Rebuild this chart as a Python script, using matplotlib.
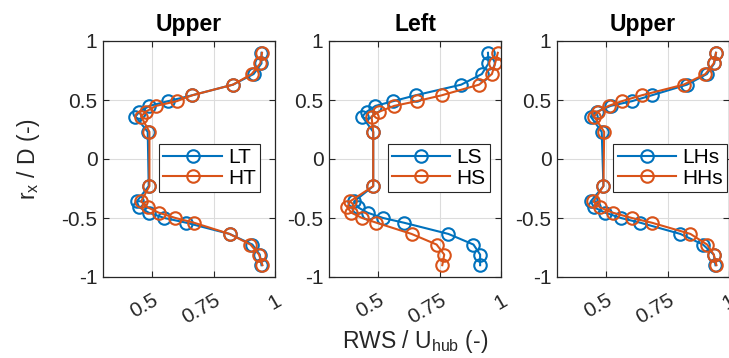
import matplotlib
matplotlib.use("Agg")
import matplotlib.pyplot as plt

plt.rcParams["font.family"] = ["Liberation Sans", "DejaVu Sans"]
plt.rcParams["mathtext.fontset"] = "custom"
plt.rcParams["mathtext.rm"] = "Liberation Sans"
plt.rcParams["mathtext.it"] = "Liberation Sans"

BLUE = "#0072BD"
ORANGE = "#D95319"

# radial positions r_x / D (shared by all profiles)
y_pos = [0.90, 0.81, 0.72, 0.63, 0.54, 0.49, 0.45, 0.40, 0.36, 0.23,
         -0.23, -0.36, -0.41, -0.455, -0.50, -0.54, -0.635, -0.725, -0.81, -0.90]

# panel 1 (Upper)
lt = [0.945, 0.945, 0.913, 0.829, 0.663, 0.565, 0.489, 0.448, 0.432, 0.482,
      0.486, 0.437, 0.448, 0.486, 0.550, 0.639, 0.815, 0.908, 0.938, 0.945]
ht = [0.947, 0.940, 0.905, 0.829, 0.663, 0.600, 0.516, 0.473, 0.455, 0.489,
      0.489, 0.455, 0.482, 0.527, 0.595, 0.670, 0.815, 0.900, 0.935, 0.949]

# panel 2 (Left)
ls_ = [0.947, 0.949, 0.922, 0.838, 0.653, 0.561, 0.489, 0.453, 0.435, 0.480,
       0.480, 0.402, 0.418, 0.457, 0.520, 0.605, 0.786, 0.888, 0.915, 0.915]
hs = [0.987, 0.976, 0.963, 0.911, 0.759, 0.657, 0.565, 0.503, 0.473, 0.480,
      0.480, 0.385, 0.375, 0.391, 0.435, 0.493, 0.636, 0.738, 0.769, 0.761]

# panel 3 (Upper)
lhs = [0.947, 0.940, 0.910, 0.829, 0.686, 0.605, 0.518, 0.462, 0.437, 0.482,
       0.489, 0.437, 0.451, 0.496, 0.560, 0.639, 0.802, 0.894, 0.938, 0.945]
hhs = [0.947, 0.938, 0.904, 0.815, 0.645, 0.564, 0.510, 0.466, 0.451, 0.492,
       0.489, 0.448, 0.475, 0.527, 0.605, 0.686, 0.843, 0.911, 0.938, 0.949]

panels = [
    ("Upper", lt, ht, "LT", "HT"),
    ("Left", ls_, hs, "LS", "HS"),
    ("Upper", lhs, hhs, "LHs", "HHs"),
]

x_ticks = [0.5, 0.75, 1]
x_ticklabels = ["0.5", "0.75", "1"]
y_ticks = [-1, -0.5, 0, 0.5, 1]
y_ticklabels = ["-1", "-0.5", "0", "0.5", "1"]

W, H = 729, 358
fig = plt.figure(figsize=(W / 100, H / 100), dpi=100)
fig.patch.set_facecolor("white")

lefts = [103, 329, 557]
ax_w, top, bottom = 172, 41, 277
legend_right = [260, 490, 727]
FS = 15
LFS = 16.5
INK = "#262626"

axes = []
for i, (title, a, b, la, lb) in enumerate(panels):
    ax = fig.add_axes([lefts[i] / W, 1 - bottom / H, ax_w / W, (bottom - top) / H])
    axes.append(ax)
    ax.plot(a, y_pos, "-o", color=BLUE, lw=1.5, ms=9, mfc="none", mew=1.5, label=la)
    ax.plot(b, y_pos, "-o", color=ORANGE, lw=1.5, ms=9, mfc="none", mew=1.5, label=lb)
    ax.set_xlim(0.3, 1.0)
    ax.set_ylim(-1, 1)
    ax.set_xticks(x_ticks)
    ax.set_xticklabels(x_ticklabels, rotation=30, ha="right", va="top",
                       rotation_mode="anchor", fontsize=FS, color=INK)
    ax.set_yticks(y_ticks)
    ax.set_yticklabels(y_ticklabels, fontsize=FS, color=INK)
    ax.grid(True, color="#dcdcdc", lw=0.8)
    ax.set_axisbelow(True)
    ax.tick_params(direction="in", top=True, right=True, length=4,
                   width=0.8, color=INK)
    ax.tick_params(axis="x", pad=10)
    ax.tick_params(axis="y", pad=4)
    for s in ax.spines.values():
        s.set_color(INK)
        s.set_linewidth(0.9)
    ax.set_title(title, fontsize=LFS, fontweight="bold", pad=7)
    bx = (legend_right[i] - lefts[i]) / ax_w
    leg = ax.legend(loc="center right", bbox_to_anchor=(bx, (bottom - 168) / (bottom - top)),
                    fontsize=FS, frameon=True, fancybox=False, handlelength=2.8,
                    handletextpad=0.3, borderpad=0.2, labelspacing=0.05,
                    borderaxespad=0, markerscale=1.0)
    leg.get_frame().set_edgecolor(INK)
    leg.get_frame().set_linewidth(0.8)
    leg.get_frame().set_alpha(1)

axes[0].set_ylabel(r"r$_\mathregular{x}$ / D (-)", fontsize=LFS, color=INK, labelpad=14)
fig.text(415 / W, 10 / H, r"RWS / U$_\mathregular{hub}$ (-)", fontsize=LFS, color=INK,
         ha="center", va="baseline")

fig.savefig("out.png", dpi=100, facecolor="white")
